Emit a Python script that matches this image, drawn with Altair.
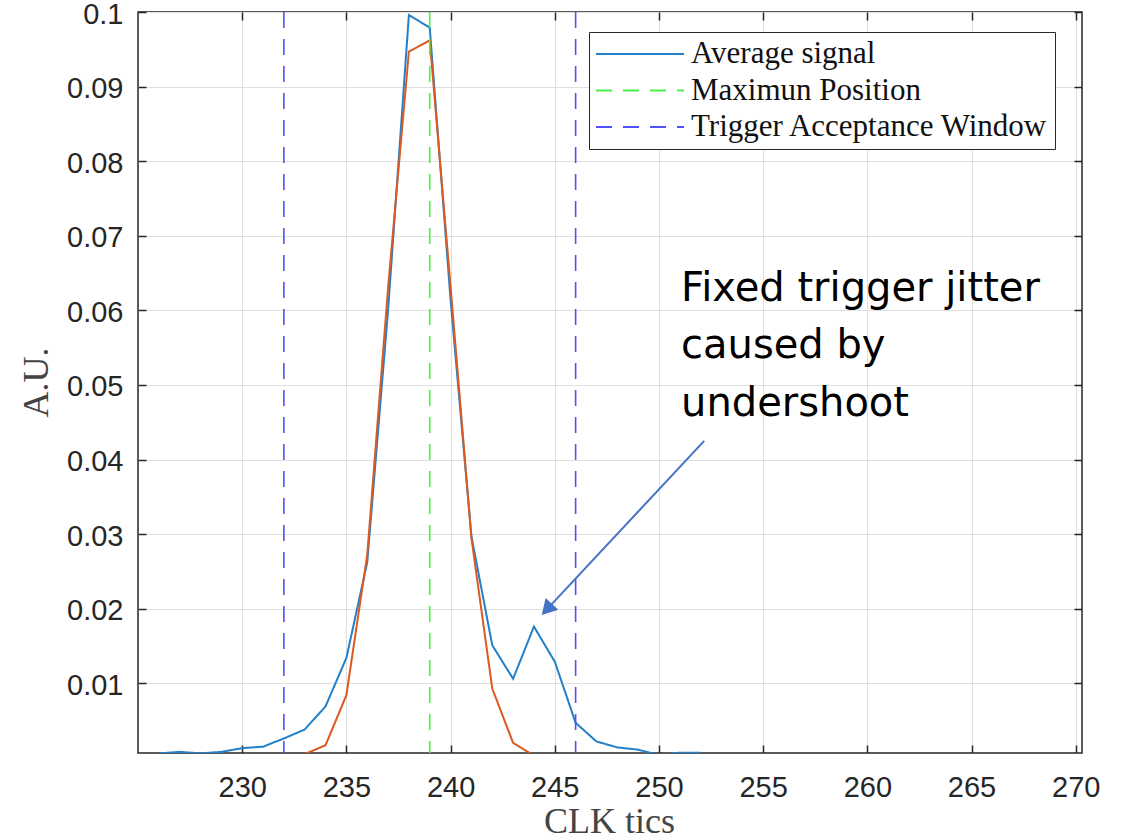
import altair as alt
import pandas as pd

# ---- data ----
clk_avg = list(range(226, 253))
avg_signal = [0.0006, 0.0008, 0.0006, 0.0008, 0.0013, 0.0015, 0.0026, 0.0038, 0.0069, 0.0134,
              0.0262, 0.0600, 0.0996, 0.0979, 0.0614, 0.0297, 0.0151, 0.0106, 0.0176, 0.0129,
              0.0047, 0.0022, 0.0014, 0.0011, 0.0004, 0.0007, 0.0007]

clk_fit = list(range(233, 245))
fit_signal = [0.0005, 0.0017, 0.0084, 0.0272, 0.0630, 0.0947, 0.0962, 0.0632, 0.0295,
              0.0093, 0.0020, 0.0003]

legend_names = ["Average signal", "Maximun Position", "Trigger Acceptance Window"]
legend_colors = ["#2280c8", "#4cf04c", "#5050ff"]
legend_dashes = [[1, 0], [16, 11], [16, 11]]

max_position = [239]
window_edges = [232, 246]

x_ticks = [230, 235, 240, 245, 250, 255, 260, 265, 270]
y_ticks = [0.01, 0.02, 0.03, 0.04, 0.05, 0.06, 0.07, 0.08, 0.09, 0.1]
x_domain = [225, 270.3]
y_domain = [0.00065, 0.1]

note_text = ["Fixed trigger jitter\ncaused by\nundershoot"]
note_x = [251.06]
note_y = [0.0613]
arrow_x = [252.17]
arrow_y = [0.0425]
arrow_x2 = [244.62]
arrow_y2 = [0.0199]

# ---- tables ----
avg_df = pd.DataFrame({"clk": clk_avg, "val": avg_signal, "series": legend_names[0]})
fit_df = pd.DataFrame({"clk": clk_fit, "val": fit_signal})
rules_df = pd.DataFrame({
    "clk": max_position + window_edges,
    "series": [legend_names[1]] + [legend_names[2]] * len(window_edges),
})
note_df = pd.DataFrame({"x": note_x, "y": note_y, "t": note_text})
arrow_df = pd.DataFrame({"x": arrow_x, "y": arrow_y, "x2": arrow_x2, "y2": arrow_y2})

xs = alt.Scale(domain=x_domain, nice=False, zero=False)
ys = alt.Scale(domain=y_domain, nice=False, zero=False)

TICK = "#262626"
GRID = "#e0e0e0"


def make_legend():
    return alt.Legend(
        orient="none", legendX=451, legendY=20, title=None,
        symbolType="stroke", symbolSize=7744, symbolStrokeWidth=2,
        labelFont="Liberation Serif", labelFontSize=31, labelColor="#111111",
        labelLimit=600, labelOffset=6, rowPadding=4.5, clipHeight=32,
        padding=6, strokeColor="#262626", fillColor="white",
    )


color_enc = alt.Color(
    "series:N",
    scale=alt.Scale(domain=legend_names, range=legend_colors),
    legend=make_legend(),
)
dash_enc = alt.StrokeDash(
    "series:N",
    scale=alt.Scale(domain=legend_names, range=legend_dashes),
    legend=make_legend(),
)

x_axis = alt.Axis(
    values=x_ticks, format="d", grid=True, gridColor=GRID, gridWidth=1,
    domain=False, ticks=True, tickSize=8, tickColor=TICK, tickWidth=1.5, offset=-8,
    labelFont="Liberation Sans", labelFontSize=29, labelColor=TICK, labelPadding=20,
    labelFlush=False,
    title="CLK tics", titleFont="Liberation Serif", titleFontSize=36,
    titleFontWeight="normal", titleColor="#444444", titleX=471, titleY=87,
    titleAlign="center", titleBaseline="alphabetic",
)
y_axis = alt.Axis(
    values=y_ticks, format=".2~f", grid=True, gridColor=GRID, gridWidth=1,
    domain=False, ticks=True, tickSize=8, tickColor=TICK, tickWidth=1.5, offset=-8,
    labelFont="Liberation Sans", labelFontSize=29, labelColor=TICK, labelPadding=15,
    labelOffset=2, labelFlush=False,
    title="A.U.", titleFont="Liberation Serif", titleFontSize=36,
    titleFontWeight="normal", titleColor="#444444", titleAngle=270,
    titleX=-99, titleY=370, titleAlign="center", titleBaseline="alphabetic",
)
x_top = alt.Axis(orient="top", values=x_ticks, labels=False, grid=False, domain=False,
                 tickSize=8, tickColor=TICK, tickWidth=1.5, offset=-8, title=None)
y_right = alt.Axis(orient="right", values=y_ticks, labels=False, grid=False, domain=False,
                   tickSize=8, tickColor=TICK, tickWidth=1.5, offset=-8, title=None)

avg_line = alt.Chart(avg_df).mark_line(strokeWidth=2, clip=True).encode(
    x=alt.X("clk:Q", scale=xs, axis=x_axis),
    y=alt.Y("val:Q", scale=ys, axis=y_axis),
    color=color_enc,
    strokeDash=dash_enc,
)

fit_line = alt.Chart(fit_df).mark_line(strokeWidth=2, clip=True, color="#dc5a22").encode(
    x=alt.X("clk:Q", scale=xs, axis=x_top),
    y=alt.Y("val:Q", scale=ys, axis=y_right),
)

rules = alt.Chart(rules_df).mark_rule(strokeWidth=1.6).encode(
    x=alt.X("clk:Q", scale=xs, axis=None),
    color=color_enc,
    strokeDash=dash_enc,
)

arrow_line = alt.Chart(arrow_df).mark_rule(color="#4472C4", strokeWidth=2).encode(
    x=alt.X("x:Q", scale=xs, axis=None),
    y=alt.Y("y:Q", scale=ys, axis=None),
    x2="x2:Q",
    y2="y2:Q",
)
arrow_head = alt.Chart(arrow_df).mark_point(
    shape="triangle-up", filled=True, size=300, angle=223, color="#4472C4", opacity=1
).encode(
    x=alt.X("x2:Q", scale=xs, axis=None),
    y=alt.Y("y2:Q", scale=ys, axis=None),
)

note = alt.Chart(note_df).mark_text(
    align="left", baseline="alphabetic", font="DejaVu Sans", fontSize=40,
    lineHeight=57.7, lineBreak="\n", color="black",
).encode(
    x=alt.X("x:Q", scale=xs, axis=None),
    y=alt.Y("y:Q", scale=ys, axis=None),
    text="t:N",
)

chart = (
    alt.layer(avg_line, fit_line, rules, arrow_line, arrow_head, note)
    .resolve_axis(x="independent", y="independent")
    .properties(
        width=944, height=741,
        padding={"left": 138, "top": 12, "right": 45, "bottom": 87},
        autosize=alt.AutoSizeParams(type="none"),
        background="white",
    )
    .configure_view(stroke=TICK, strokeWidth=1.5)
)

chart.save("out.html", embed_options={"renderer": "svg", "actions": False})
